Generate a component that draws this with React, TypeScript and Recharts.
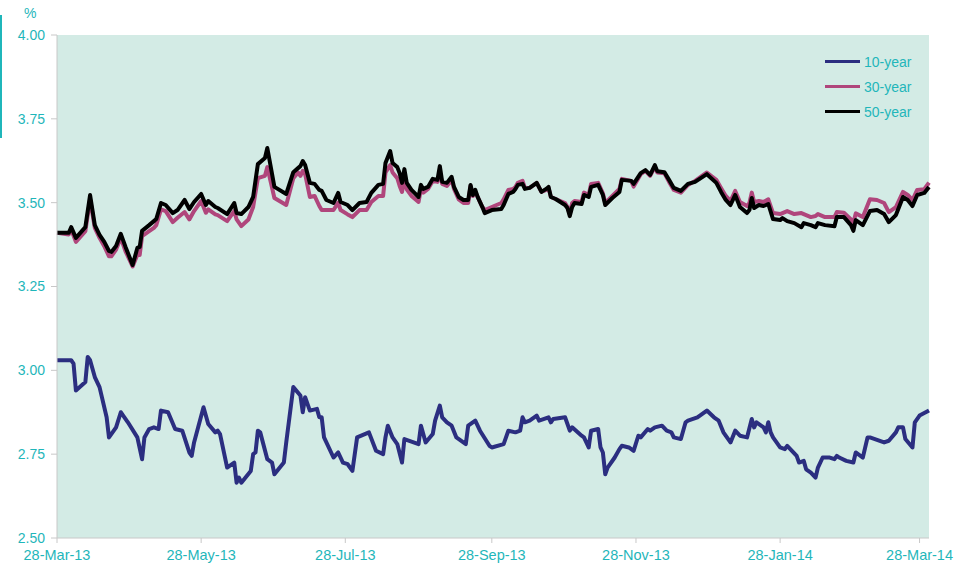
import React from "react";
import { LineChart, Line, XAxis, YAxis, CartesianGrid, Legend } from "recharts";

// days counted from 28-Mar-13
const tenYearDays = [
  0, 6, 7, 8, 12, 13, 14, 16, 18, 19, 21, 22, 25, 27, 28, 30, 34, 36, 37, 39, 41, 43, 44, 47, 50, 53, 56, 57, 58,
  62, 64, 67, 68, 69, 72, 75, 76, 77, 78, 82, 83, 84, 85, 86, 89, 91, 92, 96, 97, 100, 103, 104, 105, 107, 110, 111,
  112, 113, 117, 119, 121, 123, 125, 127, 132, 135, 138, 139, 140, 142, 144, 146, 147, 153, 154, 156, 159, 160, 162,
  163, 165, 167, 169, 173, 174, 177, 179, 183, 184, 189, 191, 194, 196, 197, 198, 200, 203, 204, 208, 209, 210, 215,
  217, 218, 222, 223, 225, 226, 229, 230, 231, 232, 233, 236, 238, 239, 242, 244, 246, 247, 250, 251, 253, 256, 258,
  260, 261, 264, 266, 267, 271, 275, 278, 280, 282, 285, 287, 289, 292, 294, 295, 296, 299, 300, 301, 302, 303, 306,
  308, 309, 313, 314, 316, 317, 319, 321, 322, 324, 327, 329, 330, 331, 334, 337, 338, 341, 343, 344, 350, 352, 355,
  356, 358, 359, 362, 363, 365, 369,
];
const tenYear = [
  3.03, 3.03, 3.02, 2.94, 2.965, 3.04, 3.03, 2.98, 2.95, 2.92, 2.86, 2.8, 2.83, 2.875, 2.865, 2.845, 2.8, 2.735, 2.8,
  2.825, 2.83, 2.825, 2.88, 2.875, 2.825, 2.82, 2.755, 2.745, 2.785, 2.89, 2.84, 2.815, 2.82, 2.81, 2.71, 2.725,
  2.665, 2.68, 2.665, 2.7, 2.75, 2.755, 2.82, 2.815, 2.735, 2.725, 2.69, 2.725, 2.785, 2.95, 2.925, 2.875, 2.92, 2.88,
  2.885, 2.86, 2.86, 2.8, 2.74, 2.755, 2.725, 2.72, 2.7, 2.8, 2.815, 2.76, 2.75, 2.8, 2.835, 2.8, 2.78, 2.725, 2.795,
  2.78, 2.835, 2.785, 2.81, 2.85, 2.895, 2.86, 2.845, 2.835, 2.8, 2.78, 2.835, 2.85, 2.82, 2.775, 2.77, 2.78, 2.82,
  2.815, 2.82, 2.86, 2.845, 2.85, 2.865, 2.85, 2.86, 2.845, 2.855, 2.86, 2.82, 2.83, 2.805, 2.8, 2.77, 2.82, 2.825,
  2.77, 2.755, 2.69, 2.71, 2.74, 2.765, 2.775, 2.77, 2.76, 2.805, 2.8, 2.825, 2.82, 2.83, 2.835, 2.82, 2.815, 2.8,
  2.795, 2.845, 2.85, 2.86, 2.88, 2.86, 2.85, 2.815, 2.785, 2.82, 2.805, 2.8, 2.855, 2.83, 2.845, 2.83, 2.815, 2.845,
  2.815, 2.8, 2.77, 2.765, 2.775, 2.745, 2.725, 2.73, 2.705, 2.695, 2.68, 2.71, 2.74, 2.74, 2.735, 2.745, 2.74, 2.73,
  2.725, 2.755, 2.74, 2.8, 2.8, 2.785, 2.79, 2.815, 2.83, 2.83, 2.795, 2.77, 2.845, 2.865, 2.88,
];

const longDays = [
  0, 5, 6, 8, 12, 14, 16, 18, 20, 22, 23, 25, 27, 29, 31, 32, 34, 35, 36, 39, 41, 42, 44, 46, 49, 51, 54, 56, 58, 61,
  63, 64, 67, 68, 72, 75, 76, 78, 81, 83, 85, 88, 89, 92, 97, 100, 102, 103, 104, 105, 107, 109, 111, 112, 114, 117,
  119, 120, 123, 125, 128, 131, 133, 136, 138, 139, 141, 142, 144, 145, 146, 147, 148, 150, 153, 154, 155, 157, 159,
  161, 162, 163, 165, 167, 168, 170, 172, 174, 175, 176, 177, 178, 180, 181, 184, 188, 189, 191, 193, 194, 195, 197,
  198, 200, 203, 205, 207, 208, 209, 211, 215, 216, 217, 218, 219, 222, 223, 225, 226, 229, 231, 232, 235, 238, 239,
  243, 244, 247, 249, 251, 253, 254, 257, 259, 261, 264, 267, 270, 275, 279, 281, 283, 285, 287, 289, 292, 293, 294,
  295, 297, 299, 301, 303, 306, 307, 309, 312, 315, 316, 319, 321, 322, 325, 329, 330, 333, 336, 337, 338, 341, 344,
  347, 350, 352, 355, 358, 360, 362, 364, 367, 369,
];
const thirtyYear = [
  3.41, 3.405, 3.42, 3.383, 3.415, 3.51, 3.425, 3.395, 3.37, 3.34, 3.34, 3.36, 3.395, 3.355, 3.325, 3.31, 3.345,
  3.344, 3.4, 3.415, 3.425, 3.433, 3.48, 3.475, 3.442, 3.455, 3.472, 3.45, 3.475, 3.505, 3.47, 3.48, 3.465, 3.463,
  3.445, 3.475, 3.45, 3.43, 3.45, 3.487, 3.573, 3.58, 3.606, 3.514, 3.493, 3.573, 3.59, 3.58, 3.595, 3.585, 3.517,
  3.52, 3.49, 3.478, 3.478, 3.478, 3.5, 3.478, 3.465, 3.457, 3.478, 3.478, 3.502, 3.52, 3.52, 3.59, 3.612, 3.59,
  3.573, 3.55, 3.532, 3.573, 3.54, 3.52, 3.502, 3.54, 3.53, 3.541, 3.565, 3.562, 3.59, 3.556, 3.55, 3.568, 3.541,
  3.51, 3.499, 3.499, 3.55, 3.52, 3.532, 3.517, 3.487, 3.478, 3.487, 3.499, 3.51, 3.538, 3.541, 3.547, 3.559, 3.565,
  3.544, 3.544, 3.559, 3.532, 3.538, 3.544, 3.517, 3.511, 3.499, 3.487, 3.466, 3.499, 3.505, 3.502, 3.53, 3.523,
  3.556, 3.559, 3.528, 3.499, 3.52, 3.541, 3.571, 3.565, 3.548, 3.585, 3.595, 3.58, 3.607, 3.59, 3.588, 3.562, 3.538,
  3.53, 3.553, 3.565, 3.59, 3.568, 3.544, 3.52, 3.505, 3.535, 3.502, 3.49, 3.499, 3.53, 3.502, 3.505, 3.502, 3.51,
  3.469, 3.466, 3.469, 3.475, 3.466, 3.469, 3.466, 3.457, 3.46, 3.466, 3.457, 3.457, 3.472, 3.47, 3.45, 3.44, 3.468,
  3.457, 3.51, 3.508, 3.499, 3.472, 3.487, 3.532, 3.523, 3.508, 3.538, 3.54, 3.56,
];
const fiftyYear = [
  3.41, 3.41, 3.427, 3.395, 3.427, 3.523, 3.433, 3.404, 3.383, 3.356, 3.353, 3.371, 3.407, 3.368, 3.332, 3.314, 3.365,
  3.368, 3.416, 3.433, 3.445, 3.451, 3.499, 3.493, 3.469, 3.478, 3.508, 3.481, 3.502, 3.526, 3.493, 3.505, 3.487,
  3.484, 3.466, 3.499, 3.469, 3.466, 3.487, 3.517, 3.615, 3.633, 3.663, 3.547, 3.526, 3.591, 3.603, 3.609, 3.624,
  3.612, 3.559, 3.556, 3.538, 3.535, 3.508, 3.499, 3.529, 3.502, 3.493, 3.478, 3.499, 3.502, 3.529, 3.553, 3.556,
  3.618, 3.654, 3.618, 3.606, 3.588, 3.559, 3.6, 3.559, 3.538, 3.517, 3.553, 3.541, 3.547, 3.571, 3.568, 3.609, 3.562,
  3.559, 3.577, 3.547, 3.517, 3.508, 3.508, 3.553, 3.523, 3.538, 3.517, 3.487, 3.469, 3.478, 3.481, 3.493, 3.526,
  3.532, 3.541, 3.553, 3.556, 3.541, 3.544, 3.559, 3.532, 3.541, 3.547, 3.517, 3.511, 3.493, 3.484, 3.46, 3.487,
  3.499, 3.496, 3.523, 3.517, 3.547, 3.553, 3.523, 3.493, 3.514, 3.532, 3.568, 3.565, 3.556, 3.588, 3.597, 3.583,
  3.612, 3.594, 3.591, 3.568, 3.544, 3.535, 3.556, 3.562, 3.585, 3.559, 3.532, 3.508, 3.493, 3.523, 3.487, 3.469,
  3.478, 3.514, 3.484, 3.493, 3.49, 3.496, 3.451, 3.448, 3.454, 3.445, 3.439, 3.427, 3.439, 3.433, 3.427, 3.439,
  3.433, 3.43, 3.457, 3.457, 3.433, 3.416, 3.448, 3.433, 3.475, 3.478, 3.466, 3.442, 3.463, 3.517, 3.508, 3.49, 3.523,
  3.529, 3.547,
];

const tickDays = [0, 61, 122, 184, 245, 306, 365];
const tickLabels = ["28-Mar-13", "28-May-13", "28-Jul-13", "28-Sep-13", "28-Nov-13", "28-Jan-14", "28-Mar-14"];
const yTicks = [2.5, 2.75, 3.0, 3.25, 3.5, 3.75, 4.0];

const seriesNames = ["10-year", "30-year", "50-year"];
const seriesColors = ["#2b2e80", "#b0467c", "#000000"];

const teal = "#1fb6ba";
const font = "'Liberation Sans', Arial, sans-serif";

const tenYearData = tenYearDays.map((d, i) => ({ day: d, value: tenYear[i] }));
const thirtyYearData = longDays.map((d, i) => ({ day: d, value: thirtyYear[i] }));
const fiftyYearData = longDays.map((d, i) => ({ day: d, value: fiftyYear[i] }));
const seriesData = [tenYearData, thirtyYearData, fiftyYearData];

function LegendBox() {
  return (
    <div style={{ fontFamily: font, fontSize: 14, color: teal }}>
      {seriesNames.map((name, i) => (
        <div key={name} style={{ display: "flex", alignItems: "center", height: 25 }}>
          <div style={{ width: 35, height: 3, background: seriesColors[i], marginRight: 4 }} />
          <span>{name}</span>
        </div>
      ))}
    </div>
  );
}

export default function App() {
  return (
    <div style={{ position: "absolute", left: 0, top: 0, width: 968, height: 567, background: "#fff" }}>
      <div style={{ position: "absolute", left: 0, top: 15, width: 2, height: 123, background: teal }} />
      <div style={{ position: "absolute", left: 24, top: 5, fontFamily: font, fontSize: 14, color: teal }}>%</div>
      <LineChart width={968} height={567} margin={{ top: 35, right: 39, bottom: 0, left: 7 }}>
        <CartesianGrid fill="#d3ebe5" stroke="none" strokeOpacity={0} />
        <XAxis
          dataKey="day"
          type="number"
          domain={[0, 369]}
          ticks={tickDays}
          tickFormatter={(v: number) => tickLabels[tickDays.indexOf(v)]}
          height={29}
          tickSize={5}
          tickMargin={7}
          stroke="#c8c8c8"
          tick={{ fill: teal, fontSize: 14.5, fontFamily: font }}
          allowDuplicatedCategory={false}
        />
        <YAxis
          type="number"
          domain={[2.5, 4]}
          ticks={yTicks}
          tickFormatter={(v: number) => v.toFixed(2)}
          width={50}
          tickSize={6}
          tickMargin={6}
          stroke="#c8c8c8"
          tick={{ fill: teal, fontSize: 14, fontFamily: font }}
        />
        <Legend
          layout="horizontal"
          verticalAlign="middle"
          align="center"
          content={() => <LegendBox />}
          wrapperStyle={{ position: "absolute", left: 825, top: 49, width: 120 }}
        />
        {seriesNames.map((name, i) => (
          <Line
            key={name}
            data={seriesData[i]}
            dataKey="value"
            name={name}
            type="linear"
            stroke={seriesColors[i]}
            strokeWidth={4}
            strokeLinejoin="round"
            dot={false}
            activeDot={false}
            isAnimationActive={false}
          />
        ))}
      </LineChart>
    </div>
  );
}
